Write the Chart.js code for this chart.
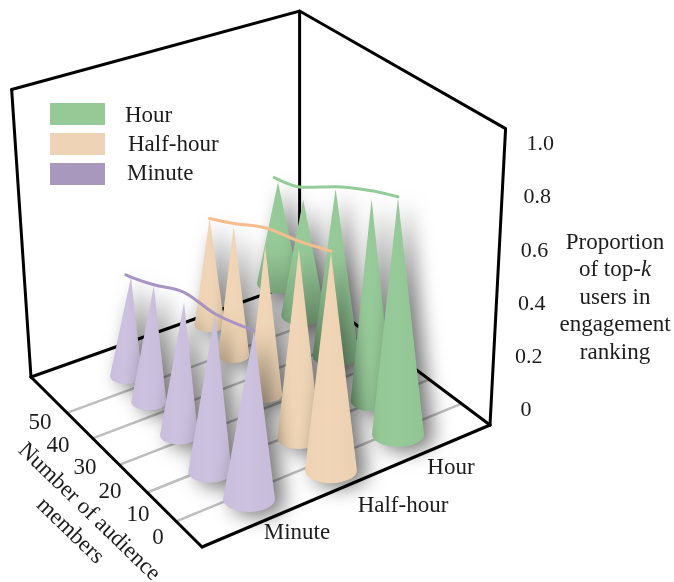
<!DOCTYPE html>
<html>
<head>
<meta charset="utf-8">
<title>Proportion of top-k users in engagement ranking</title>
<script src="https://cdn.jsdelivr.net/npm/chart.js@4"></script>
<style>html,body{margin:0;padding:0;background:#fff}canvas{display:block}</style>
</head>
<body>
<canvas id="c" width="674" height="582"></canvas>
<script>
// ---- data ----
const categories = ['Minute', 'Half-hour', 'Hour'];
const audience = [50, 40, 30, 20, 10];
const minuteValues = [0.378, 0.436, 0.489, 0.57, 0.596];
const halfHourValues = [0.42, 0.50, 0.56, 0.695, 0.786];
const hourValues = [0.41, 0.458, 0.645, 0.76, 0.87];
const minuteTrend = [0.368, 0.378, 0.44, 0.526, 0.57, 0.596];
const halfHourTrend = [0.42, 0.51, 0.63, 0.725, 0.79];
const hourTrend = [0.41, 0.42, 0.506, 0.653, 0.79, 0.875];
const minuteTrendAudience = [52, 50, 40, 30, 20, 10];
const halfHourTrendAudience = [50, 40, 30, 20, 10];
const hourTrendAudience = [51.5, 50, 40, 30, 20, 10];
const gridAudience = [10, 20, 30, 40, 50];
const audienceTicks = ['0', '10', '20', '30', '40', '50'];
const valueTicks = [0, 0.2, 0.4, 0.6, 0.8, 1.0];
const valueTickLabels = ['0', '0.2', '0.4', '0.6', '0.8', '1.0'];

// ---- view of the box (camera set-up, not data) ----
const floorQuad = [[202, 547], [490, 425], [299, 282], [31, 377]];
const coneQuad = [[249, 499], [398, 434], [278, 283], [126, 376]];
const categoryDepth = [0, 0.55, 1];
const audienceDepth = { 10: 0, 20: 0.22, 30: 0.52, 40: 0.79, 50: 1 };
const rowDrift = { 10: 0, 20: 12, 30: 6, 40: 3, 50: 0 };
const categoryLean = [5, 0, 0];
const vanish = [290, 4227];
const zTop = 1.1;
const audienceLo = 1.5, audienceHi = 64.8;
const minuteRadius = [16, 17.5, 19, 21.7, 26];
const halfHourRadius = [15, 15.5, 17, 21.5, 26];
const hourRadius = [21, 22, 23, 21, 26];
const colours = { Minute: '#c9bedb', 'Half-hour': '#edd3b3', Hour: '#94c796' };
const trendColours = { Minute: '#a894c2', 'Half-hour': '#f7bd8d', Hour: '#93cc98' };
const legendColours = { Hour: '#97c997', 'Half-hour': '#eed3b6', Minute: '#a998bd' };

function homography(q) {
  const [p0, p1, p2, p3] = q;
  const dx1 = p1[0] - p2[0], dx2 = p3[0] - p2[0], dx3 = p0[0] - p1[0] + p2[0] - p3[0];
  const dy1 = p1[1] - p2[1], dy2 = p3[1] - p2[1], dy3 = p0[1] - p1[1] + p2[1] - p3[1];
  const den = dx1 * dy2 - dx2 * dy1;
  const g = (dx3 * dy2 - dx2 * dy3) / den, h = (dx1 * dy3 - dx3 * dy1) / den;
  const a = p1[0] - p0[0] + g * p1[0], b = p3[0] - p0[0] + h * p3[0];
  const d = p1[1] - p0[1] + g * p1[1], e = p3[1] - p0[1] + h * p3[1];
  return (u, v) => {
    const w = g * u + h * v + 1;
    return [(a * u + b * v + p0[0]) / w, (d * u + e * v + p0[1]) / w];
  };
}
const floorMap = homography(floorQuad);
const fullHeight = y => 271 + 0.18 * (y - 282);
function raise(p, z) {
  const h = z / zTop * fullHeight(p[1]);
  const dx = p[0] - vanish[0], dy = p[1] - vanish[1], n = Math.hypot(dx, dy);
  return { x: p[0] + dx / n * h, y: p[1] + dy / n * h };
}
const coneTip = (p, z, catIndex) => ({ x: p[0] + categoryLean[catIndex], y: p[1] - z / zTop * fullHeight(p[1]) });
const pt = p => ({ x: p[0], y: p[1] });
const floorAt = (u, a) => floorMap(u, (a - audienceLo) / (audienceHi - audienceLo));
function depthOf(a) {
  if (a > 50) return 1 + (a - 50) * 0.021;
  return audienceDepth[a];
}
function coneBase(catIndex, a) {
  const u = categoryDepth[catIndex], v = depthOf(a);
  const [p0, p1, p2, p3] = coneQuad;
  const fx = p0[0] + (p1[0] - p0[0]) * u, fy = p0[1] + (p1[1] - p0[1]) * u;
  const bx = p3[0] + (p2[0] - p3[0]) * u, by = p3[1] + (p2[1] - p3[1]) * u;
  return [
    fx + (bx - fx) * v - (rowDrift[a] || 0) * (1 - u),
    fy + (by - fy) * v + 7 * 4 * u * (1 - u) * (1 - v)
  ];
}

const F = floorQuad[0], R = floorQuad[1], B = floorQuad[2], L = floorQuad[3];
const frameEdges = [[F, R], [F, L], [L, B], [B, R]].map(e => e.map(pt))
  .concat([L, B, R].map(c => [pt(c), raise(c, zTop)]))
  .concat([[raise(L, zTop), raise(B, zTop), raise(R, zTop)]]);

const datasets = [];
let ord = 1000;
const line = (data, colour, width, extra) => datasets.push(Object.assign({
  data, showLine: true, borderColor: colour, borderWidth: width, pointRadius: 0, tension: 0,
  order: ord--, borderCapStyle: 'round', borderJoinStyle: 'miter'
}, extra || {}));

gridAudience.forEach(a => line([pt(floorAt(0, a)), pt(floorAt(1, a))], '#bdbdbd', 2.5, { label: 'grid ' + a }));
frameEdges.forEach(e => line(e, '#000', 3, { label: 'frame' }));

const series = [
  ['Hour', hourValues, 2, hourRadius],
  ['Half-hour', halfHourValues, 1, halfHourRadius],
  ['Minute', minuteValues, 0, minuteRadius]
];
series.forEach(([name, values, idx, radii]) => {
  values.forEach((v, i) => {
    const base = coneBase(idx, audience[i]);
    datasets.push({
      label: name + ' ' + audience[i],
      data: [coneTip(base, v, idx), pt(base)],
      showLine: false, pointRadius: 0, order: ord--,
      cone: { colour: colours[name], radius: radii[i] }
    });
  });
});
const trends = [
  ['Hour', hourTrend, hourTrendAudience, 2],
  ['Half-hour', halfHourTrend, halfHourTrendAudience, 1],
  ['Minute', minuteTrend, minuteTrendAudience, 0]
];
trends.forEach(([name, values, aud, idx]) => {
  line(values.map((v, i) => coneTip(coneBase(idx, aud[i]), v, idx)), trendColours[name], 3,
    { label: name + ' trend', cubicInterpolationMode: 'monotone', tension: 0.4 });
});

function shade(hex, amt) {
  const n = parseInt(hex.slice(1), 16);
  const c = [n >> 16, (n >> 8) & 255, n & 255].map(x => Math.min(255, Math.max(0, Math.round(x + amt))));
  return `rgb(${c[0]},${c[1]},${c[2]})`;
}

const conePlugin = {
  id: 'cones',
  beforeDatasetDraw(chart, args) {
    const ds = chart.data.datasets[args.index];
    if (!ds.cone) return;
    const sx = chart.scales.x, sy = chart.scales.y, ctx = chart.ctx;
    const ax = sx.getPixelForValue(ds.data[0].x), ay = sy.getPixelForValue(ds.data[0].y);
    const cx = sx.getPixelForValue(ds.data[1].x), cy = sy.getPixelForValue(ds.data[1].y);
    const r = ds.cone.radius, ry = r * 0.5;
    ctx.save();
    const g = ctx.createLinearGradient(cx - r, 0, cx + r, 0);
    g.addColorStop(0, shade(ds.cone.colour, 0));
    g.addColorStop(0.45, shade(ds.cone.colour, 3));
    g.addColorStop(1, shade(ds.cone.colour, -3));
    ctx.fillStyle = g;
    ctx.shadowColor = 'rgba(0,0,0,0.55)';
    ctx.shadowBlur = 20;
    ctx.shadowOffsetX = 9;
    ctx.shadowOffsetY = 4;
    ctx.beginPath();
    ctx.moveTo(ax, ay);
    ctx.lineTo(cx + r, cy);
    ctx.ellipse(cx, cy, r, ry, 0, 0, Math.PI, false);
    ctx.closePath();
    ctx.fill();
    ctx.restore();
  }
};

const SERIF = '"Liberation Serif", "Times New Roman", serif';
const INK = '#1c1c1c';
const legendEntries = [
  ['Hour', 103, 125, 116],
  ['Half-hour', 133, 155, 145],
  ['Minute', 163, 185, 174]
];
const legendTextX = { Hour: 125, 'Half-hour': 128, Minute: 127 };
const categoryLabelPos = [[297, 533], [403, 506], [451, 468]];
const audienceLabelPos = [[158, 538], [138, 515], [110, 492], [85, 468], [58, 446], [40, 423]];
const titleLines = ['Proportion', 'of top-', 'users in', 'engagement', 'ranking'];
const titleY = [243, 270, 298, 325, 353];

const textPlugin = {
  id: 'texts',
  afterDraw(chart) {
    const ctx = chart.ctx;
    ctx.save();
    ctx.fillStyle = INK;
    ctx.textBaseline = 'middle';
    ctx.font = '23px ' + SERIF;

    legendEntries.forEach(([name, top, bottom, y]) => {
      ctx.fillStyle = legendColours[name];
      ctx.fillRect(50, top, 55, bottom - top);
      ctx.fillStyle = INK;
      ctx.textAlign = 'left';
      ctx.fillText(name, legendTextX[name], y);
    });

    ctx.textAlign = 'center';
    categories.forEach((c, i) => ctx.fillText(c, categoryLabelPos[i][0], categoryLabelPos[i][1]));
    audienceTicks.forEach((t, i) => ctx.fillText(t, audienceLabelPos[i][0], audienceLabelPos[i][1]));

    const sx = chart.scales.x, sy = chart.scales.y;
    ctx.font = '22px ' + SERIF;
    valueTicks.forEach((z, i) => {
      const p = raise(R, z);
      ctx.fillText(valueTickLabels[i], sx.getPixelForValue(p.x) + 36, sy.getPixelForValue(p.y) - 15 + 4 * z);
    });

    ctx.font = '23px ' + SERIF;
    titleLines.forEach((t, i) => {
      if (t === 'of top-') {
        ctx.font = '23px ' + SERIF;
        const w1 = ctx.measureText(t).width;
        ctx.font = 'italic 23px ' + SERIF;
        const w2 = ctx.measureText('k').width;
        const x0 = 615 - (w1 + w2) / 2;
        ctx.textAlign = 'left';
        ctx.font = '23px ' + SERIF;
        ctx.fillText(t, x0, titleY[i]);
        ctx.font = 'italic 23px ' + SERIF;
        ctx.fillText('k', x0 + w1, titleY[i]);
        ctx.font = '23px ' + SERIF;
        ctx.textAlign = 'center';
      } else {
        ctx.fillText(t, 615, titleY[i]);
      }
    });

    const rotated = [['Number of audience', 89, 512], ['members', 70, 531]];
    rotated.forEach(([t, x, y]) => {
      ctx.save();
      ctx.translate(x, y);
      ctx.rotate(44 * Math.PI / 180);
      ctx.fillText(t, 0, 0);
      ctx.restore();
    });
    ctx.restore();
  }
};

new Chart(document.getElementById('c'), {
  type: 'scatter',
  data: { datasets },
  plugins: [conePlugin, textPlugin],
  options: {
    responsive: false,
    animation: false,
    layout: { padding: 0 },
    plugins: { legend: { display: false }, tooltip: { enabled: false } },
    scales: {
      x: { type: 'linear', display: false, min: 0, max: 674 },
      y: { type: 'linear', display: false, min: 0, max: 582, reverse: true }
    }
  }
});
</script>
</body>
</html>
